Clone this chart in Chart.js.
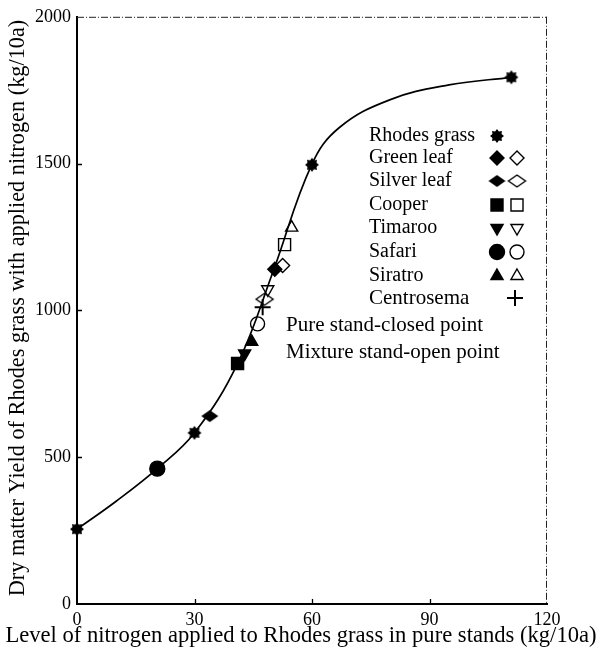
<!DOCTYPE html>
<html lang="en">
<head>
<meta charset="UTF-8">
<title>Rhodes grass yield vs nitrogen</title>
<style>
  html, body { margin: 0; padding: 0; background: #fff; }
  #wrap { width: 601px; height: 653px; }
</style>
</head>
<body>
<div id="wrap"><canvas id="nChart" width="601" height="653"></canvas></div>
<script src="https://cdn.jsdelivr.net/npm/chart.js@4.4.0/dist/chart.umd.min.js"></script>
<script>
// values: x = N applied to Rhodes grass in pure stands, y = dry matter yield (kg/10a)
const xTicks = [0, 30, 60, 90, 120];
const yTicks = [0, 500, 1000, 1500, 2000];

// fitted response curve
const curveX = [0, 10, 20.5, 30, 41, 50, 59.9, 67, 80, 95, 110.9];
const curveY = [255, 350, 461, 583, 819, 1130, 1496, 1623, 1718, 1768, 1794];

const rhodesX = [0, 30, 60, 110.9];
const rhodesY = [255, 583, 1496, 1794];

const greenClosedX = [50.5],  greenClosedY = [1140];
const greenOpenX = [52.5],    greenOpenY = [1153];
const silverClosedX = [33.9], silverClosedY = [640];
const silverOpenX = [47.9],   silverOpenY = [1038];
const cooperClosedX = [41.0], cooperClosedY = [819];
const cooperOpenX = [53.0],   cooperOpenY = [1224];
const timarooClosedX = [42.8], timarooClosedY = [853];
const timarooOpenX = [48.7],  timarooOpenY = [1072];
const safariClosedX = [20.5], safariClosedY = [461];
const safariOpenX = [46.1],   safariOpenY = [954];
const siratroClosedX = [44.6], siratroClosedY = [893];
const siratroOpenX = [54.8],  siratroOpenY = [1282];
const centroX = [47.4],       centroY = [1011];

const legendNames = ['Rhodes grass', 'Green leaf', 'Silver leaf', 'Cooper', 'Timaroo', 'Safari', 'Siratro', 'Centrosema'];
const noteLines = ['Pure stand-closed point', 'Mixture stand-open point'];
const xTitle = 'Level of nitrogen applied to Rhodes grass in pure stands (kg/10a)';
const yTitle = 'Dry matter Yield of Rhodes grass with applied nitrogen (kg/10a)';

const FONT = '"Liberation Serif", "DejaVu Serif", serif';
const INK = '#000';

function pts(xs, ys) {
  return xs.map((x, i) => ({ x: x, y: ys[i] }));
}

// little canvases for markers chart.js has no built-in shape for
function starImg(r) {
  const s = Math.ceil(r * 2 + 2);
  const c = document.createElement('canvas');
  c.width = c.height = s;
  const g = c.getContext('2d');
  g.translate(s / 2, s / 2);
  g.beginPath();
  for (let i = 0; i < 16; i++) {
    const a = i * Math.PI / 8;
    const rr = i % 2 ? r * 0.7 : r;
    g.lineTo(Math.cos(a) * rr, Math.sin(a) * rr);
  }
  g.closePath();
  g.fillStyle = INK;
  g.fill();
  return c;
}

function wideDiamond(w, h, filled) {
  const c = document.createElement('canvas');
  c.width = w + 4; c.height = h + 4;
  const g = c.getContext('2d');
  g.translate(c.width / 2, c.height / 2);
  g.beginPath();
  g.moveTo(0, -h / 2); g.lineTo(w / 2, 0); g.lineTo(0, h / 2); g.lineTo(-w / 2, 0);
  g.closePath();
  if (filled) { g.fillStyle = INK; g.fill(); }
  else { g.lineWidth = 1.4; g.strokeStyle = INK; g.stroke(); }
  return c;
}

const starPt = starImg(7);
const silverFill = wideDiamond(17, 12, true);
const silverOpen = wideDiamond(17, 12, false);

// marker definitions shared by plot and legend
const mk = {
  rhodes:   { pointStyle: starPt, radius: 7 },
  greenC:   { pointStyle: 'rectRot', radius: 7, fill: true },
  greenO:   { pointStyle: 'rectRot', radius: 7, fill: false },
  silverC:  { pointStyle: silverFill, radius: 8 },
  silverO:  { pointStyle: silverOpen, radius: 8 },
  cooperC:  { pointStyle: 'rect', radius: 8.5, fill: true },
  cooperO:  { pointStyle: 'rect', radius: 8.5, fill: false },
  timC:     { pointStyle: 'triangle', rotation: 180, radius: 7, fill: true },
  timO:     { pointStyle: 'triangle', rotation: 180, radius: 7, fill: false },
  safC:     { pointStyle: 'circle', radius: 7.5, fill: true },
  safO:     { pointStyle: 'circle', radius: 7, fill: false },
  sirC:     { pointStyle: 'triangle', radius: 7, fill: true },
  sirO:     { pointStyle: 'triangle', radius: 7, fill: false },
  centro:   { pointStyle: 'cross', radius: 8, fill: false, bw: 2 }
};

function markerSet(label, xs, ys, m) {
  return {
    label: label,
    data: pts(xs, ys),
    pointStyle: m.pointStyle,
    rotation: m.rotation || 0,
    pointRadius: m.radius,
    pointHoverRadius: m.radius,
    pointBackgroundColor: m.fill ? INK : 'rgba(0,0,0,0)',
    pointBorderColor: INK,
    pointBorderWidth: m.bw || 1.4,
    showLine: false,
    clip: false,
    order: 1
  };
}

const datasets = [
  {
    type: 'line',
    label: 'curve',
    data: pts(curveX, curveY),
    borderColor: INK,
    borderWidth: 1.7,
    pointRadius: 0,
    fill: false,
    tension: 0.4,
    clip: false,
    order: 10
  },
  markerSet('Rhodes grass', rhodesX, rhodesY, mk.rhodes),
  markerSet('Green leaf pure', greenClosedX, greenClosedY, mk.greenC),
  markerSet('Green leaf mixture', greenOpenX, greenOpenY, mk.greenO),
  markerSet('Silver leaf pure', silverClosedX, silverClosedY, mk.silverC),
  markerSet('Silver leaf mixture', silverOpenX, silverOpenY, mk.silverO),
  markerSet('Cooper pure', cooperClosedX, cooperClosedY, mk.cooperC),
  markerSet('Cooper mixture', cooperOpenX, cooperOpenY, mk.cooperO),
  markerSet('Timaroo pure', timarooClosedX, timarooClosedY, mk.timC),
  markerSet('Timaroo mixture', timarooOpenX, timarooOpenY, mk.timO),
  markerSet('Safari pure', safariClosedX, safariClosedY, mk.safC),
  markerSet('Safari mixture', safariOpenX, safariOpenY, mk.safO),
  markerSet('Siratro pure', siratroClosedX, siratroClosedY, mk.sirC),
  markerSet('Siratro mixture', siratroOpenX, siratroOpenY, mk.sirO),
  markerSet('Centrosema', centroX, centroY, mk.centro)
];

function drawMark(ctx, m, x, y) {
  ctx.save();
  ctx.fillStyle = m.fill ? INK : 'rgba(0,0,0,0)';
  ctx.strokeStyle = INK;
  ctx.lineWidth = m.bw || 1.4;
  Chart.helpers.drawPoint(ctx, {
    pointStyle: m.pointStyle, rotation: m.rotation || 0, radius: m.radius, borderWidth: m.bw || 1.4
  }, x, y);
  ctx.restore();
}

// pick a font size so the text spans the same width as in the figure
function fitSize(ctx, text, width) {
  ctx.font = '20px ' + FONT;
  return 20 * width / ctx.measureText(text).width;
}

// frame, inward ticks, axis titles and the key
const decor = {
  id: 'decor',
  afterDraw(chart) {
    const ctx = chart.ctx;
    const a = chart.chartArea;
    const xs = chart.scales.x, ys = chart.scales.y;
    ctx.save();

    // dashed top and right edges
    ctx.strokeStyle = '#222';
    ctx.lineWidth = 1;
    ctx.setLineDash([7, 2, 1, 2]);
    ctx.beginPath();
    ctx.moveTo(a.left, a.top + 0.5); ctx.lineTo(a.right, a.top + 0.5);
    ctx.moveTo(a.right - 0.5, a.top); ctx.lineTo(a.right - 0.5, a.bottom);
    ctx.stroke();
    ctx.setLineDash([]);

    // short inward ticks
    ctx.strokeStyle = INK;
    ctx.lineWidth = 1.3;
    ctx.beginPath();
    xTicks.slice(1, -1).forEach(v => {
      const px = Math.round(xs.getPixelForValue(v)) + 0.5;
      ctx.moveTo(px, a.bottom); ctx.lineTo(px, a.bottom - 5);
    });
    yTicks.slice(1, -1).forEach(v => {
      const py = Math.round(ys.getPixelForValue(v)) + 0.5;
      ctx.moveTo(a.left, py); ctx.lineTo(a.left + 5, py);
    });
    ctx.stroke();

    // axis titles
    ctx.fillStyle = INK;
    ctx.textBaseline = 'middle';
    ctx.textAlign = 'center';
    ctx.font = fitSize(ctx, xTitle, 592).toFixed(1) + 'px ' + FONT;
    ctx.fillText(xTitle, 301, 636);
    ctx.save();
    ctx.translate(18, 308);
    ctx.rotate(-Math.PI / 2);
    ctx.font = fitSize(ctx, yTitle, 576).toFixed(1) + 'px ' + FONT;
    ctx.fillText(yTitle, 0, 0);
    ctx.restore();

    // key
    const rowsY = [136, 158, 181, 205, 228, 252, 276, 298];
    const closedM = [mk.rhodes, mk.greenC, mk.silverC, mk.cooperC, mk.timC, mk.safC, mk.sirC, mk.centro];
    const openM = [null, mk.greenO, mk.silverO, mk.cooperO, mk.timO, mk.safO, mk.sirO, null];
    ctx.textAlign = 'left';
    legendNames.forEach((name, i) => {
      ctx.font = (i === 7 ? '21px ' : '20px ') + FONT;
      ctx.fillText(name, 369, rowsY[i]);
      if (i === 7) {
        drawMark(ctx, closedM[i], 515, rowsY[i]);
      } else {
        drawMark(ctx, closedM[i], 497, rowsY[i]);
        if (openM[i]) drawMark(ctx, openM[i], 517, rowsY[i]);
      }
    });
    ctx.font = '21px ' + FONT;
    ctx.fillText(noteLines[0], 286, 325);
    ctx.fillText(noteLines[1], 286, 352);

    ctx.restore();
  }
};

const tickFont = { family: FONT, size: 18 };

new Chart(document.getElementById('nChart'), {
  type: 'scatter',
  data: { datasets: datasets },
  options: {
    responsive: false,
    animation: false,
    events: [],
    layout: { autoPadding: false, padding: { left: 0, top: 12, right: 54, bottom: 0 } },
    plugins: { legend: { display: false }, tooltip: { enabled: false } },
    scales: {
      x: {
        type: 'linear',
        min: xTicks[0],
        max: xTicks[xTicks.length - 1],
        afterBuildTicks: s => { s.ticks = xTicks.map(v => ({ value: v })); },
        afterFit: s => { s.height = 49; },
        grid: { display: false, drawTicks: false },
        border: { display: true, color: INK, width: 2 },
        ticks: { color: INK, font: tickFont, padding: 5, maxRotation: 0, autoSkip: false, callback: v => String(v) }
      },
      y: {
        type: 'linear',
        min: yTicks[0],
        max: yTicks[yTicks.length - 1],
        afterBuildTicks: s => { s.ticks = yTicks.map(v => ({ value: v })); },
        afterFit: s => { s.width = 77; },
        grid: { display: false, drawTicks: false },
        border: { display: true, color: INK, width: 2 },
        ticks: { color: INK, font: tickFont, padding: 6, autoSkip: false, callback: v => String(v) }
      }
    }
  },
  plugins: [decor]
});
</script>
</body>
</html>
